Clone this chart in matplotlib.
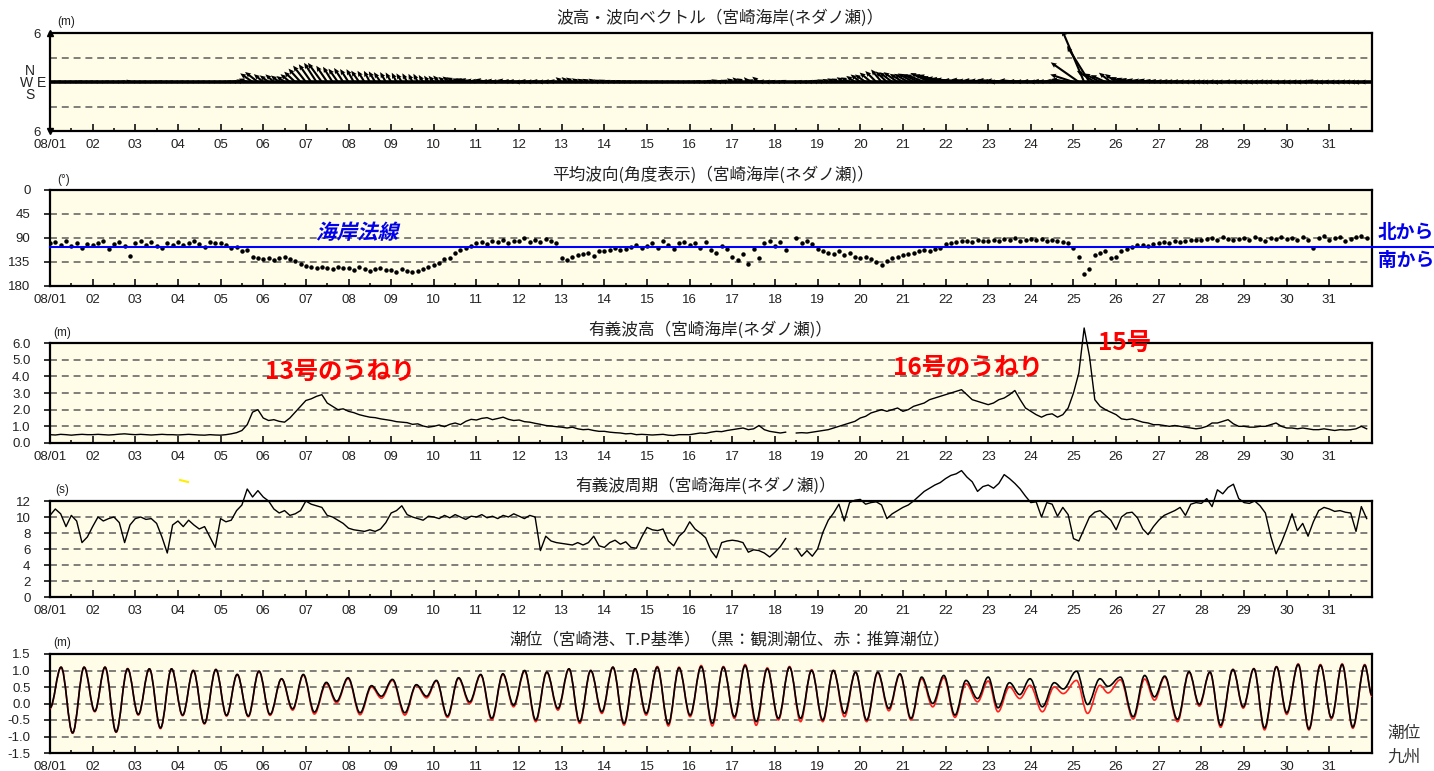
import numpy as np
import matplotlib
matplotlib.use('Agg')
import matplotlib.pyplot as plt
from matplotlib.path import Path
from matplotlib.patches import PathPatch
from matplotlib.textpath import TextPath
from matplotlib.font_manager import FontProperties
from matplotlib.transforms import Affine2D
from matplotlib.lines import Line2D

plt.rcParams['font.family'] = ['Liberation Sans', 'Noto Sans CJK JP']
plt.rcParams['lines.scale_dashes'] = False
JP = ['Noto Sans CJK JP']

W, H = 1434, 771

# ---- data (3-hourly, 8 values per day, 08/01 .. 08/31) ----
# significant wave height (m)
hs = [
    0.50, 0.48, 0.52, 0.50, 0.47, 0.50, 0.52, 0.50,
    0.50, 0.52, 0.50, 0.48, 0.50, 0.53, 0.55, 0.52,
    0.50, 0.52, 0.50, 0.48, 0.50, 0.52, 0.50, 0.50,
    0.48, 0.50, 0.52, 0.50, 0.48, 0.47, 0.50, 0.48,
    0.47, 0.50, 0.55, 0.62, 0.75, 1.10, 1.85, 2.00,
    1.50, 1.35, 1.40, 1.30, 1.25, 1.50, 1.85, 2.20,
    2.55, 2.65, 2.80, 2.90, 2.40, 2.20, 2.00, 2.05,
    1.90, 1.82, 1.70, 1.62, 1.55, 1.52, 1.45, 1.40,
    1.35, 1.28, 1.25, 1.22, 1.12, 1.15, 1.02, 0.95,
    1.00, 1.08, 0.98, 1.12, 1.20, 1.10, 1.30, 1.42,
    1.38, 1.48, 1.52, 1.40, 1.47, 1.55, 1.42, 1.35,
    1.38, 1.28, 1.25, 1.18, 1.12, 1.05, 1.02, 0.98,
    0.95, 0.90, 0.95, 0.85, 0.80, 0.82, 0.75, 0.70,
    0.70, 0.65, 0.62, 0.60, 0.55, 0.57, 0.50, 0.52,
    0.50, 0.48, 0.50, 0.52, 0.47, 0.45, 0.50, 0.50,
    0.50, 0.55, 0.60, 0.58, 0.65, 0.70, 0.68, 0.75,
    0.80, 0.85, 0.90, 0.80, 0.85, 1.05, 0.80, 0.70,
    0.65, 0.60, 0.65, np.nan, 0.60, 0.62, 0.60, 0.65,
    0.70, 0.75, 0.80, 0.90, 1.00, 1.10, 1.20, 1.30,
    1.50, 1.60, 1.80, 1.90, 2.00, 1.90, 2.00, 2.10,
    1.90, 2.00, 2.20, 2.30, 2.40, 2.60, 2.70, 2.80,
    2.90, 3.00, 3.10, 3.20, 2.90, 2.60, 2.50, 2.40,
    2.30, 2.40, 2.60, 2.70, 2.90, 3.15, 2.60, 2.10,
    1.90, 1.70, 1.55, 1.70, 1.75, 1.55, 1.70, 2.10,
    3.00, 4.20, 6.90, 5.20, 2.60, 2.20, 2.00, 1.85,
    1.70, 1.45, 1.40, 1.45, 1.35, 1.25, 1.20, 1.10,
    1.10, 1.05, 1.00, 1.05, 1.00, 0.95, 0.90, 0.85,
    0.90, 1.00, 1.20, 1.20, 1.30, 1.40, 1.15, 1.00,
    1.00, 0.95, 0.95, 1.00, 1.00, 1.10, 1.20, 1.00,
    0.90, 0.90, 0.85, 0.90, 0.85, 0.80, 0.80, 0.85,
    0.80, 0.75, 0.80, 0.78, 0.80, 0.85, 1.00, 0.85,
]

# mean wave direction (deg, coming from)
wdir = [
    100, 98, 103, 96, 105, 100, 108, 102,
    104, 100, 95, 110, 102, 98, 105, 124,
    100, 96, 103, 98, 105, 108, 100, 103,
    97, 104, 100, 95, 102, 106, 98, 100,
    100, 103, 108, 106, 115, 112, 125, 128,
    130, 127, 132, 128, 126, 130, 133, 138,
    142, 145, 147, 144, 146, 148, 145, 147,
    147, 150, 145, 148, 152, 149, 146, 150,
    150, 153, 148, 151, 154, 152, 148, 145,
    140, 137, 130, 127, 118, 113, 108, 105,
    100, 97, 102, 95, 98, 93, 100, 96,
    95, 90, 97, 93, 98, 92, 96, 100,
    128, 132, 125, 122, 120, 118, 123, 115,
    115, 112, 108, 113, 110, 106, 104, 108,
    105, 100, 108, 96, 103, 110, 100, 98,
    104, 100, 108, 98, 112, 118, 105, 110,
    125, 132, 120, 138, 110, 128, 100, 95,
    105, 98, 112, np.nan, 90, 100, 96, 102,
    110, 115, 118, 120, 115, 122, 118, 125,
    128, 125, 130, 135, 140, 133, 127, 125,
    122, 120, 118, 115, 112, 115, 110, 108,
    102, 100, 98, 96, 95, 97, 94, 96,
    95, 93, 96, 92, 94, 90, 95, 93,
    92, 94, 91, 95, 93, 96, 98, 100,
    108, 125, 157, 148, 122, 118, 115, 128,
    125, 115, 110, 106, 104, 103, 105, 102,
    100, 98, 99, 96, 97, 95, 93, 94,
    94, 92, 90, 93, 88, 91, 94, 92,
    90, 93, 88, 91, 95, 90, 92, 88,
    92, 90, 94, 89, 93, 108, 90, 87,
    93, 90, 88, 95, 92, 89, 86, 90,
]

# significant wave period (s)
tp = [
    10.2, 11.0, 10.4, 8.8, 10.2, 9.5, 6.8, 7.5,
    8.8, 10.0, 9.5, 9.8, 10.0, 9.3, 6.8, 9.0,
    9.8, 10.0, 9.7, 9.8, 9.2, 7.5, 5.5, 9.0,
    9.5, 8.8, 9.6, 9.0, 8.5, 8.8, 7.5, 6.2,
    9.8, 9.4, 9.6, 10.8, 11.5, 13.5, 12.5, 13.3,
    12.5, 12.0, 11.0, 10.5, 10.8, 10.2, 10.4, 10.8,
    12.0, 11.6, 11.4, 11.2, 10.2, 10.0, 9.6, 9.2,
    8.6, 8.4, 8.3, 8.2, 8.4, 8.2, 8.5, 9.3,
    10.5, 10.8, 11.4, 10.3, 10.0, 9.8, 9.6, 10.1,
    10.0, 9.8, 10.2, 9.9, 10.3, 10.0, 9.7, 10.1,
    10.0, 10.3, 9.9, 10.1, 9.8, 10.2, 10.0, 10.4,
    10.1, 9.8, 10.2, 10.0, 5.8, 7.6, 7.0, 6.8,
    6.7, 6.6, 6.5, 6.8, 6.5, 6.8, 7.6, 6.4,
    6.2, 6.8, 7.1, 6.6, 6.9, 6.2, 6.1, 7.5,
    8.7, 8.4, 8.3, 8.5, 7.0, 6.4, 7.6, 8.2,
    9.4, 8.5, 8.0, 7.4, 5.8, 4.9, 6.8, 7.0,
    7.1, 7.0, 6.8, 5.6, 5.9, 5.8, 5.5, 5.0,
    5.6, 6.3, 7.3, np.nan, 6.1, 5.1, 5.8, 5.1,
    6.0, 8.1, 9.6, 10.5, 11.6, 9.5, 11.8, 12.1,
    12.2, 11.6, 11.8, 11.9, 11.5, 9.8, 10.4, 10.8,
    11.2, 11.5, 12.0, 12.6, 13.2, 13.6, 14.0, 14.3,
    14.8, 15.2, 15.4, 15.8, 15.0, 14.4, 13.2, 13.8,
    14.0, 13.6, 14.2, 15.3, 14.8, 14.2, 13.5, 12.6,
    11.8, 11.9, 10.0, 11.8, 11.6, 10.1, 11.2, 10.3,
    7.3, 7.0, 8.5, 10.0, 10.6, 10.8, 10.2, 9.6,
    8.4, 10.0, 10.5, 10.6, 9.9, 8.5, 7.8, 8.8,
    9.6, 10.2, 10.5, 10.8, 11.2, 10.2, 11.6, 11.8,
    11.7, 12.3, 11.3, 13.4, 12.9, 13.7, 14.1, 12.3,
    11.8, 11.7, 12.0, 11.4, 10.5, 7.6, 5.4, 6.8,
    8.5, 10.4, 8.3, 9.2, 7.6, 9.4, 10.8, 11.2,
    11.0, 10.7, 10.8, 10.6, 10.5, 8.2, 11.3, 9.8,
]

# tide: times of turning points (day from 08/01 00:00), observed and predicted (m, T.P.)
tide_t = [
    0.00, 0.26, 0.53, 0.80, 1.05, 1.29, 1.55, 1.82, 2.07, 2.33, 2.59, 2.85,
    3.11, 3.36, 3.62, 3.89, 4.14, 4.39, 4.65, 4.90, 5.16, 5.43, 5.69, 5.94,
    6.20, 6.48, 6.72, 6.99, 7.27, 7.54, 7.77, 8.03, 8.32, 8.59, 8.83, 9.06,
    9.32, 9.58, 9.84, 10.10, 10.36, 10.62, 10.87, 11.13, 11.39, 11.65, 11.91, 12.17,
    12.42, 12.68, 12.94, 13.20, 13.46, 13.72, 13.98, 14.24, 14.50, 14.75, 15.01, 15.27,
    15.53, 15.79, 16.05, 16.30, 16.56, 16.82, 17.08, 17.34, 17.60, 17.86, 18.12, 18.37,
    18.63, 18.89, 19.15, 19.41, 19.67, 19.93, 20.19, 20.44, 20.70, 20.96, 21.22, 21.48,
    21.75, 22.00, 22.23, 22.50, 22.74, 22.98, 23.27, 23.55, 23.76, 24.07, 24.33, 24.62,
    24.81, 25.10, 25.40, 25.67, 25.90, 26.14, 26.44, 26.71, 26.95, 27.20, 27.45, 27.74,
    27.98, 28.23, 28.48, 28.76, 29.00, 29.27, 29.52, 29.79, 30.05, 30.30, 30.55, 30.83,
    31.00,
]
tide_obs = [
    -0.13, 1.10, -0.89, 1.10, -0.23, 1.10, -0.86, 1.05, -0.33, 1.05, -0.74, 1.05,
    -0.35, 1.00, -0.60, 1.03, -0.36, 0.88, -0.38, 0.98, -0.33, 0.75, -0.16, 0.88,
    -0.26, 0.64, 0.07, 0.78, -0.28, 0.54, 0.22, 0.73, -0.28, 0.57, 0.22, 0.70,
    -0.38, 0.78, 0.05, 0.88, -0.45, 0.90, -0.05, 1.00, -0.50, 0.95, -0.15, 1.05,
    -0.55, 1.00, -0.25, 1.10, -0.60, 1.05, -0.30, 1.10, -0.62, 1.08, -0.35, 1.12,
    -0.60, 1.10, -0.40, 1.15, -0.55, 1.05, -0.45, 1.10, -0.45, 1.00, -0.50, 1.00,
    -0.30, 0.95, -0.50, 0.95, -0.15, 0.90, -0.45, 0.80, 0.00, 0.85, -0.35, 0.70,
    0.15, 0.80, -0.13, 0.63, 0.27, 0.75, -0.10, 0.63, 0.44, 0.98, -0.03, 0.75,
    0.52, 0.80, -0.40, 0.85, 0.20, 0.83, -0.48, 0.96, -0.03, 0.95, -0.66, 1.03,
    -0.10, 1.05, -0.74, 1.11, -0.28, 1.18, -0.77, 1.16, -0.43, 1.18, -0.71, 1.16,
    0.25,
]
tide_est = [
    -0.15, 1.10, -0.90, 1.10, -0.25, 1.10, -0.87, 1.06, -0.35, 1.05, -0.76, 1.05,
    -0.37, 1.00, -0.62, 1.03, -0.38, 0.88, -0.40, 0.98, -0.36, 0.74, -0.20, 0.86,
    -0.32, 0.60, 0.02, 0.75, -0.34, 0.50, 0.16, 0.70, -0.35, 0.55, 0.17, 0.68,
    -0.42, 0.76, 0.00, 0.86, -0.50, 0.88, -0.10, 0.98, -0.55, 0.95, -0.20, 1.05,
    -0.60, 1.00, -0.30, 1.10, -0.65, 1.05, -0.35, 1.12, -0.68, 1.10, -0.40, 1.15,
    -0.68, 1.12, -0.45, 1.18, -0.66, 1.08, -0.50, 1.12, -0.55, 1.02, -0.55, 1.00,
    -0.40, 0.95, -0.55, 0.93, -0.22, 0.88, -0.50, 0.75, -0.10, 0.78, -0.42, 0.60,
    0.05, 0.68, -0.25, 0.50, 0.15, 0.55, -0.25, 0.50, 0.30, 0.70, -0.30, 0.55,
    0.32, 0.72, -0.47, 0.74, 0.10, 0.80, -0.55, 0.95, -0.08, 0.95, -0.72, 1.03,
    -0.14, 1.06, -0.80, 1.12, -0.33, 1.20, -0.80, 1.18, -0.46, 1.20, -0.75, 1.18,
    0.22,
]

day_labels = ['08/01'] + ['%02d' % d for d in range(2, 32)]
coast_normal = 106  # deg

titles = [
    '波高・波向ベクトル（宮崎海岸(ネダノ瀬)）',
    '平均波向(角度表示)（宮崎海岸(ネダノ瀬)）',
    '有義波高（宮崎海岸(ネダノ瀬)）',
    '有義波周期（宮崎海岸(ネダノ瀬)）',
    '潮位（宮崎港、T.P基準）（黒：観測潮位、赤：推算潮位）',
]

# ---------------------------------------------------------------
t3 = np.arange(len(hs)) / 8.0
hs_a = np.array(hs, float)
dir_a = np.array(wdir, float)
tp_a = np.array(tp, float)

fig = plt.figure(figsize=(W / 100, H / 100), dpi=100)
BG = '#fffde8'
DASH = '#5c5c5c'


def ftext(x, y, s, **kw):
    return fig.text(x / W, 1 - y / H, s, **kw)


def panel(top, bottom):
    ax = fig.add_axes([50 / W, 1 - bottom / H, 1322 / W, (bottom - top) / H])
    ax.set_facecolor(BG)
    ax.set_xlim(0, 31)
    ax.set_xticks(range(31))
    ax.set_xticklabels(day_labels)
    ax.set_xticks(np.arange(0.5, 31, 1), minor=True)
    ax.tick_params(axis='x', which='major', direction='in', length=5, width=1.3,
                   pad=6, labelsize=9.5, colors='#222222')
    ax.tick_params(axis='x', which='minor', direction='in', length=2.5, width=1.1)
    ax.tick_params(axis='y', direction='out', length=4, width=1.3, pad=10,
                   labelsize=9.5, colors='#222222')
    for s in ax.spines.values():
        s.set_linewidth(1.6)
    return ax


def dashes(ax, ys):
    for y in ys:
        ax.axhline(y, color=DASH, lw=1.1, ls=(0, (5, 3.5)), zorder=1)


# 1) wave vectors
ax1 = panel(33, 131)
ax1.set_ylim(-6, 6)
ax1.set_yticks([-6, 6])
ax1.set_yticklabels(['6', '6'])
ax1.tick_params(axis='y', length=0, pad=7)
dashes(ax1, [-3, 3])
rad = np.deg2rad(dir_a)
u = np.ma.masked_invalid(-hs_a * np.sin(rad))
v = np.ma.masked_invalid(-hs_a * np.cos(rad))
ax1.axhline(0, color='k', lw=2.6, zorder=2)
ax1.quiver(t3, np.zeros_like(t3), u, v, angles='uv', scale_units='y', scale=1,
           width=0.0016, headwidth=2.4, headlength=2.8, headaxislength=2.5,
           minlength=0.5, color='k', zorder=3)
ax1.plot([0], [1], marker='^', ms=5, color='k', transform=ax1.transAxes, clip_on=False)
ax1.plot([0], [0], marker='v', ms=5, color='k', transform=ax1.transAxes, clip_on=False)
ftext(30, 71, 'N', fontsize=10, ha='center', va='center', color='#222222')
ftext(33, 83, 'W E', fontsize=10, ha='center', va='center', color='#222222')
ftext(30, 95, 'S', fontsize=10, ha='center', va='center', color='#222222')
ftext(66, 22, '(m)', fontsize=8.5, ha='center', va='center', color='#222222')

# 2) mean wave direction
ax2 = panel(190, 286)
ax2.set_ylim(180, 0)
ax2.set_yticks([0, 45, 90, 135, 180])
dashes(ax2, [45, 90, 135])
ax2.plot(t3, dir_a, ls='none', marker='o', ms=2.2, color='k', zorder=3)
ax2.plot([0, 32.5], [coast_normal, coast_normal], color='#0000ff', lw=1.5,
         clip_on=False, zorder=4)
ftext(64, 180, '(°)', fontsize=8.5, ha='center', va='center', color='#222222')
fp = FontProperties(family='Noto Sans CJK JP', weight='bold')
tpath = TextPath((0, 0), '海岸法線', size=20.5, prop=fp)
tr = Affine2D().skew_deg(14, 0).translate(316, H - 239)
fig.add_artist(PathPatch(tpath, transform=tr, facecolor='#0000ee', edgecolor='none'))
ftext(1378, 233, '北から', fontsize=13.5, fontweight='bold', color='#0000ee',
      family=JP, ha='left', va='center')
ftext(1378, 260, '南から', fontsize=13.5, fontweight='bold', color='#0000ee',
      family=JP, ha='left', va='center')

# 3) significant wave height
ax3 = panel(343, 443)
ax3.set_ylim(0, 6)
ax3.set_yticks(range(7))
ax3.set_yticklabels(['%.1f' % y for y in range(7)])
dashes(ax3, [1, 2, 3, 4, 5])
ax3.plot(t3, hs_a, color='k', lw=1.0, clip_on=False, zorder=3)
ftext(62, 333, '(m)', fontsize=8.5, ha='center', va='center', color='#222222')
red = dict(fontsize=17.5, fontweight='bold', color='#ff0000', family=JP, va='center')
ftext(265, 372, '13号のうねり', ha='left', **red)
ftext(893, 368, '16号のうねり', ha='left', **red)
ftext(1098, 343, '15号', ha='left', **red)

# 4) significant wave period
ax4 = panel(501, 597)
ax4.set_ylim(0, 12)
ax4.set_yticks(range(0, 13, 2))
dashes(ax4, [2, 4, 6, 8, 10])
ax4.plot(t3, tp_a, color='k', lw=1.0, clip_on=False, zorder=3)
ftext(62, 490, '(s)', fontsize=8.5, ha='center', va='center', color='#222222')

# 5) tide
ax5 = panel(654, 753)
ax5.set_ylim(-1.5, 1.5)
ax5.set_yticks(np.arange(-1.5, 1.51, 0.5))
ax5.set_yticklabels(['%.1f' % y for y in np.arange(-1.5, 1.51, 0.5)])
dashes(ax5, [-1.0, -0.5, 0.0, 0.5, 1.0])
ftext(62, 643, '(m)', fontsize=8.5, ha='center', va='center', color='#222222')


def tide_path(ts, vs):
    verts = [(ts[0], vs[0])]
    codes = [Path.MOVETO]
    for i in range(len(ts) - 1):
        dt = ts[i + 1] - ts[i]
        verts += [(ts[i] + 0.3634 * dt, vs[i]), (ts[i + 1] - 0.3634 * dt, vs[i + 1]),
                  (ts[i + 1], vs[i + 1])]
        codes += [Path.CURVE4] * 3
    return Path(verts, codes)


ax5.add_patch(PathPatch(tide_path(tide_t, tide_est), fill=False, edgecolor='#ff2020',
                        lw=1.2, zorder=3))
ax5.add_patch(PathPatch(tide_path(tide_t, tide_obs), fill=False, edgecolor='k',
                        lw=1.2, zorder=4))

# titles
title_x = [720, 713, 710, 706, 730]
title_y = [18, 175, 330, 486, 640]
for s, x, y in zip(titles, title_x, title_y):
    ftext(x, y, s, fontsize=12, family=JP, ha='center', va='center', color='#222222')

# source note (only the part that fits on the page)
ftext(1387, 733, '潮位', fontsize=12, family=JP, ha='left', va='center', color='#333333')
ftext(1387, 757, '九州', fontsize=12, family=JP, ha='left', va='center', color='#333333')
fig.add_artist(Line2D([180 / W, 188 / W], [1 - 480 / H, 1 - 482 / H], color='#ffee00', lw=1.5))

fig.savefig('out.png', dpi=100, facecolor='white')
